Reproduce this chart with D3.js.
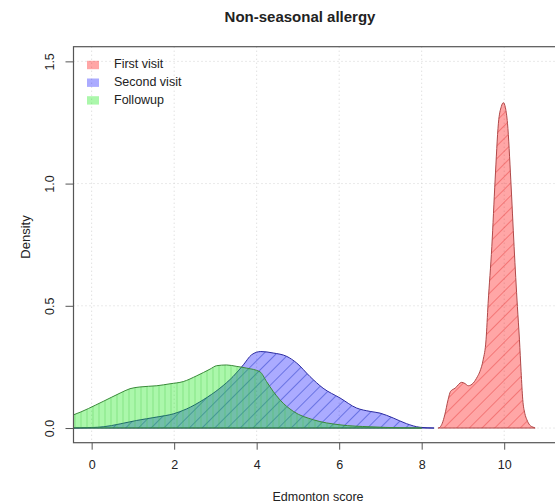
<!DOCTYPE html>
<html>
<head>
<meta charset="utf-8">
<script src="https://cdn.jsdelivr.net/npm/d3@7"></script>
<style>
body { margin: 0; background: #fff; }
text { font-family: "Liberation Sans", Arial, sans-serif; fill: #222; }
</style>
</head>
<body>
<script>
// density estimates, [score, density]
const firstVisit = [[8.40,0],[8.44,0.003],[8.50,0.02],[8.56,0.054],[8.64,0.116],[8.70,0.15],[8.81,0.163],
  [8.97,0.187],[9.05,0.182],[9.13,0.173],[9.25,0.184],[9.35,0.21],[9.41,0.231],[9.49,0.279],[9.56,0.361],
  [9.61,0.51],[9.70,0.742],[9.78,1.015],[9.86,1.247],[9.93,1.315],[9.98,1.331],[10.03,1.31],[10.08,1.247],
  [10.16,1.015],[10.24,0.742],[10.32,0.497],[10.37,0.361],[10.41,0.23],[10.45,0.116],[10.50,0.06],
  [10.55,0.034],[10.62,0.012],[10.71,0.003],[10.75,0]];
const secondVisit = [[-0.6,0],[0,0.002],[0.28,0.005],[0.69,0.017],[1.09,0.031],[1.58,0.045],[1.98,0.058],
  [2.3,0.078],[2.71,0.116],[3.11,0.163],[3.43,0.211],[3.68,0.259],[3.88,0.3],[4.1,0.313],[4.4,0.307],
  [4.73,0.293],[4.97,0.266],[5.29,0.211],[5.61,0.163],[6.02,0.123],[6.42,0.082],[6.75,0.068],[6.99,0.061],
  [7.31,0.041],[7.63,0.018],[7.96,0.003],[8.3,0]];
const followup = [[-0.6,0.045],[-0.44,0.054],[0.28,0.109],[0.69,0.143],[0.93,0.161],[1.17,0.168],[1.58,0.173],
  [1.9,0.181],[2.22,0.19],[2.55,0.214],[2.87,0.241],[3.03,0.255],[3.27,0.258],[3.52,0.252],[3.76,0.245],
  [4.08,0.23],[4.24,0.19],[4.4,0.15],[4.56,0.116],[4.89,0.068],[5.37,0.034],[6.02,0.013],[6.75,0.005],
  [7.5,0.001],[8,0]];

const seriesNames = ["First visit", "Second visit", "Followup"];
const xTicks = [0, 2, 4, 6, 8, 10];
const yTicks = [0, 0.5, 1.0, 1.5];

const W = 555, H = 504;
const pLeft = 73.5, pRight = 563.6, pTop = 46.7, pBottom = 442.7;

const x = d3.scaleLinear().domain([-0.44, 11.44]).range([pLeft, pRight]);
const y = d3.scaleLinear().domain([-0.06, 1.56]).range([pBottom, pTop]);

const svg = d3.select("body").append("svg")
    .attr("width", W)
    .attr("height", H);

const defs = svg.append("defs");
defs.append("clipPath").attr("id", "plotClip")
  .append("rect")
    .attr("x", pLeft).attr("y", pTop)
    .attr("width", pRight - pLeft).attr("height", pBottom - pTop);

// hatch patterns like R polygon(density=, angle=)
function hatch(id, gap, angle, color) {
  const p = defs.append("pattern")
      .attr("id", id)
      .attr("patternUnits", "userSpaceOnUse")
      .attr("width", gap)
      .attr("height", 10)
      .attr("patternTransform", "rotate(" + angle + ")");
  p.append("line")
      .attr("x1", gap / 2).attr("x2", gap / 2)
      .attr("y1", 0).attr("y2", 10)
      .attr("stroke", color)
      .attr("stroke-width", 1);
}
hatch("hRed", 9, 45, "rgba(230,60,60,0.45)");
hatch("hBlue", 9, 45, "rgba(40,60,200,0.5)");
hatch("hGreen", 6, 0, "rgba(60,200,60,0.35)");

//grid
svg.append("g").selectAll("line")
  .data(xTicks).enter().append("line")
    .attr("x1", d => x(d)).attr("x2", d => x(d))
    .attr("y1", pTop).attr("y2", pBottom)
    .attr("stroke", "#d3d3d3")
    .attr("stroke-dasharray", "1,3");
svg.append("g").selectAll("line")
  .data(yTicks).enter().append("line")
    .attr("x1", pLeft).attr("x2", pRight)
    .attr("y1", d => y(d)).attr("y2", d => y(d))
    .attr("stroke", "#d3d3d3")
    .attr("stroke-dasharray", "1,3");

const line = d3.line()
    .x(d => x(d[0]))
    .y(d => y(d[1]))
    .curve(d3.curveMonotoneX);

function closed(pts) {
  // close along y = 0 the way R's polygon of a density does
  const first = pts[0], last = pts[pts.length - 1];
  return line(pts) + "L" + x(last[0]) + "," + y(0) + "L" + x(first[0]) + "," + y(0) + "Z";
}

const plot = svg.append("g").attr("clip-path", "url(#plotClip)");

const layers = [
  { data: firstVisit, fill: "rgba(255,0,0,0.35)", pat: "hRed", stroke: "#b04848" },
  { data: secondVisit, fill: "rgba(0,0,255,0.33)", pat: "hBlue", stroke: "#2a2aa0" },
  { data: followup, fill: "rgba(0,230,0,0.33)", pat: "hGreen", stroke: "#3a8a3a" }
];

layers.forEach(function (l) {
  plot.append("path")
      .attr("d", closed(l.data))
      .attr("fill", l.fill);
  plot.append("path")
      .attr("d", closed(l.data))
      .attr("fill", "url(#" + l.pat + ")");
  plot.append("path")
      .attr("d", closed(l.data))
      .attr("fill", "none")
      .attr("stroke", l.stroke)
      .attr("stroke-width", 1);
});

//box
svg.append("rect")
    .attr("x", pLeft).attr("y", pTop)
    .attr("width", pRight - pLeft).attr("height", pBottom - pTop)
    .attr("fill", "none")
    .attr("stroke", "#555")
    .attr("stroke-width", 1.2);

//axes
const xAxis = svg.append("g")
    .attr("transform", "translate(0," + pBottom + ")")
    .call(d3.axisBottom(x).tickValues(xTicks).tickSize(7).tickPadding(10).tickFormat(d3.format("d")));
xAxis.select(".domain").remove();
xAxis.selectAll("line").attr("stroke", "#555");
xAxis.selectAll("text").style("font-size", "12.5px").attr("fill", "#222");

const yAxis = svg.append("g")
    .attr("transform", "translate(" + pLeft + ",0)")
    .call(d3.axisLeft(y).tickValues(yTicks).tickSize(8).tickFormat(d3.format(".1f")));
yAxis.select(".domain").remove();
yAxis.selectAll("line").attr("stroke", "#555");
yAxis.selectAll("text")
    .style("font-size", "12.5px")
    .attr("fill", "#222")
    .attr("text-anchor", "middle")
    .attr("x", 0).attr("y", 0).attr("dy", 0)
    .attr("dominant-baseline", "middle")
    .attr("transform", "translate(-23,0) rotate(-90)");

//titles
svg.append("text")
    .attr("x", 300).attr("y", 22)
    .attr("text-anchor", "middle")
    .style("font-size", "15px")
    .style("font-weight", "bold")
    .text("Non-seasonal allergy");

svg.append("text")
    .attr("x", 318).attr("y", 501)
    .attr("text-anchor", "middle")
    .style("font-size", "12.5px")
    .text("Edmonton score");

svg.append("text")
    .attr("transform", "translate(27,237) rotate(-90)")
    .attr("text-anchor", "middle")
    .attr("dominant-baseline", "middle")
    .style("font-size", "13px")
    .text("Density");

//legend
const legendColors = ["rgba(255,0,0,0.35)", "rgba(0,0,255,0.33)", "rgba(0,230,0,0.33)"];
const legend = svg.append("g").selectAll("g")
  .data(seriesNames).enter().append("g")
    .attr("transform", (d, i) => "translate(87," + (65 + i * 17.7) + ")");
legend.append("rect")
    .attr("x", 0).attr("y", -4.2)
    .attr("width", 12).attr("height", 8.4)
    .attr("fill", (d, i) => legendColors[i]);
legend.append("text")
    .attr("x", 27).attr("y", 0)
    .attr("dominant-baseline", "middle")
    .style("font-size", "12.5px")
    .text(d => d);
</script>
</body>
</html>
